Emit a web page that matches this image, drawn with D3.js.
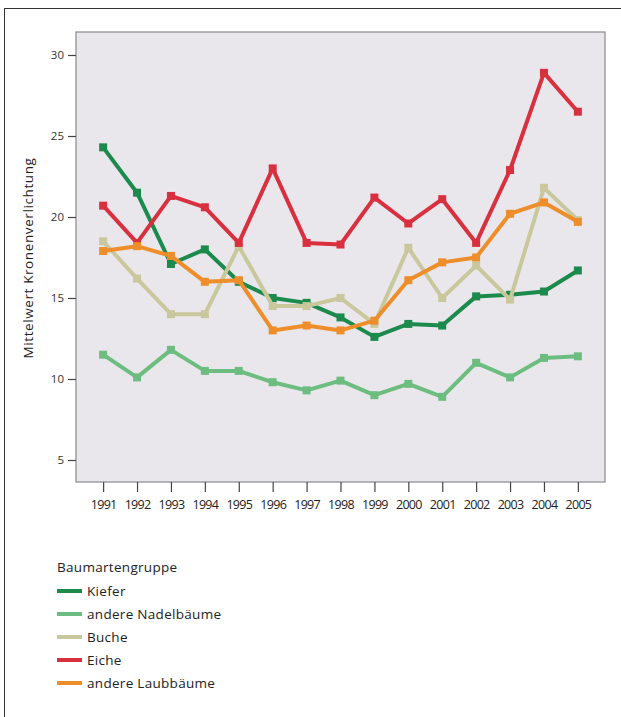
<!DOCTYPE html>
<html><head><meta charset="utf-8">
<script src="https://cdn.jsdelivr.net/npm/d3@7"></script>
<style>body{margin:0;background:#fff;font-family:"Open Sans","Noto Sans",sans-serif;}</style>
</head><body><svg id="c" width="621" height="717"></svg>
<script>
const years = ["1991","1992","1993","1994","1995","1996","1997","1998","1999","2000","2001","2002","2003","2004","2005"];
const seriesNames = ["Kiefer","andere Nadelbäume","Buche","Eiche","andere Laubbäume"];
const seriesColors = ["#1c8a4c","#6dbd80","#c9c89c","#d9303f","#ee8e2a"];
const kiefer = [24.3,21.5,17.1,18.0,16.0,15.0,14.7,13.8,12.6,13.4,13.3,15.1,15.2,15.4,16.7];
const andereNadel = [11.5,10.1,11.8,10.5,10.5,9.8,9.3,9.9,9.0,9.7,8.9,11.0,10.1,11.3,11.4];
const buche = [18.5,16.2,14.0,14.0,18.2,14.5,14.5,15.0,13.4,18.1,15.0,17.0,14.9,21.8,19.8];
const eiche = [20.7,18.4,21.3,20.6,18.4,23.0,18.4,18.3,21.2,19.6,21.1,18.4,22.9,28.9,26.5];
const andereLaub = [17.9,18.2,17.6,16.0,16.1,13.0,13.3,13.0,13.6,16.1,17.2,17.5,20.2,20.9,19.7];
const yTicks = [5,10,15,20,25,30];
const yTitle = "Mittelwert Kronenverlichtung";
const legendTitle = "Baumartengruppe";

const seriesValues = [kiefer, andereNadel, buche, eiche, andereLaub];
const svg = d3.select("#c");
svg.append("rect").attr("x",4.5).attr("y",8.5).attr("width",640).attr("height",720)
  .attr("fill","none").attr("stroke","#333").attr("stroke-width",1);

const L=76,R=605,T=32,B=482;
const x = d3.scalePoint().domain(years).range([L,R]).padding(0.8);
const y = d3.scaleLinear().domain([5,30]).range([460,55]);

svg.append("rect").attr("x",L).attr("y",T).attr("width",R-L).attr("height",B-T)
  .attr("fill","#e9e7ec").attr("stroke","#8a8a8a").attr("stroke-width",1.2);

const yAxis = svg.append("g").attr("transform",`translate(${L},0)`)
  .call(d3.axisLeft(y).tickValues(yTicks).tickSize(8).tickSizeOuter(0));
yAxis.select(".domain").remove();
yAxis.selectAll("line").attr("stroke","#444").attr("stroke-width",1.2);
yAxis.selectAll("text").attr("font-size",11.5).attr("fill","#333").attr("dx",-1)
  .attr("font-family","'Open Sans',sans-serif");

const xAxis = svg.append("g").attr("transform",`translate(0,${B})`)
  .call(d3.axisBottom(x).tickSize(10).tickSizeOuter(0));
xAxis.select(".domain").remove();
xAxis.selectAll("line").attr("stroke","#444").attr("stroke-width",1.2);
xAxis.selectAll("text").attr("font-size",12.5).attr("fill","#222").attr("dy","1.15em")
  .attr("font-family","'Open Sans',sans-serif").attr("letter-spacing","-0.7");

svg.append("text").attr("transform",`translate(33,${(T+B)/2+1}) rotate(-90)`)
  .attr("text-anchor","middle").attr("font-size",13.5).attr("fill","#222")
  .attr("letter-spacing","0.6")
  .attr("font-family","'Open Sans',sans-serif").text(yTitle);

const line = d3.line().x((d,i)=>x(years[i])).y(d=>y(d));
seriesValues.forEach((vals,k)=>{
  const g = svg.append("g");
  g.append("path").datum(vals).attr("d",line).attr("fill","none")
    .attr("stroke",seriesColors[k]).attr("stroke-width",4).attr("stroke-linejoin","round");
  g.selectAll("rect").data(vals).enter().append("rect")
    .attr("x",(d,i)=>x(years[i])-4).attr("y",d=>y(d)-4).attr("width",8).attr("height",8)
    .attr("fill",seriesColors[k]);
});

const lg = svg.append("g").attr("font-family","'Open Sans',sans-serif").attr("font-size",13.5).attr("fill","#222");
lg.append("text").attr("x",57).attr("y",572).attr("letter-spacing","0.3").text(legendTitle);
seriesNames.forEach((n,i)=>{
  const yy = 591 + i*23;
  lg.append("line").attr("x1",57).attr("x2",82).attr("y1",yy).attr("y2",yy)
    .attr("stroke",seriesColors[i]).attr("stroke-width",4);
  lg.append("text").attr("x",87).attr("y",yy+5).attr("letter-spacing","0.3").text(n);
});
</script></body></html>
